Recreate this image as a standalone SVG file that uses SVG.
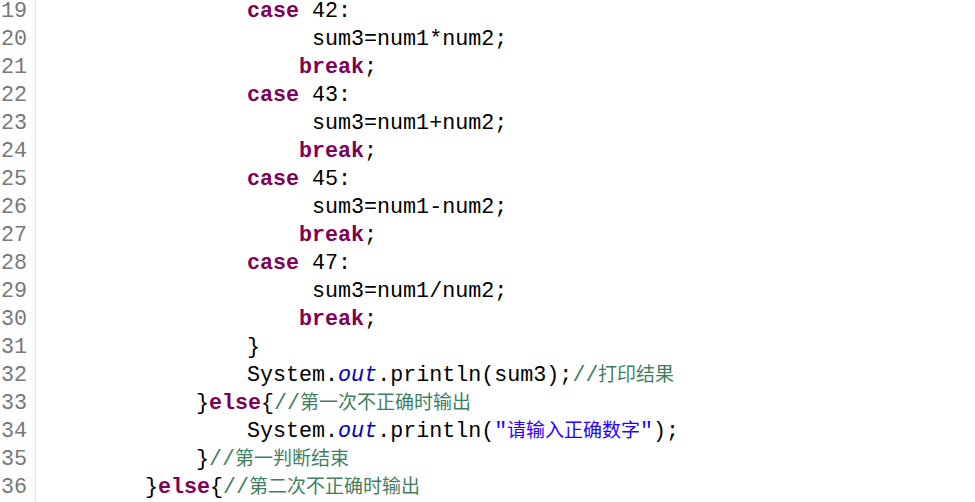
<svg xmlns="http://www.w3.org/2000/svg" width="975" height="502" viewBox="0 0 975 502">
<style>
text{font-family:"Liberation Mono","DejaVu Sans Mono",monospace;font-size:21.7px;fill:#000;white-space:pre}
.ln{fill:#787878}
.kw{fill:#7f0055;font-weight:bold}
.fld{fill:#0000c0;font-style:italic}
.str{fill:#2a00ff}
.cm{fill:#3f7f5f}
.cjk{font-family:"Noto Sans CJK SC","Noto Sans",sans-serif;font-size:19px}
</style>
<rect width="975" height="502" fill="#fff"/>
<line x1="35.5" y1="0" x2="35.5" y2="502" stroke="#e6e6e6" stroke-width="1"/>
<g id="gutter">
<text class="ln" x="1" y="17">19</text>
<text class="ln" x="1" y="45">20</text>
<text class="ln" x="1" y="73">21</text>
<text class="ln" x="1" y="101">22</text>
<text class="ln" x="1" y="129">23</text>
<text class="ln" x="1" y="157">24</text>
<text class="ln" x="1" y="185">25</text>
<text class="ln" x="1" y="213">26</text>
<text class="ln" x="1" y="241">27</text>
<text class="ln" x="1" y="269">28</text>
<text class="ln" x="1" y="297">29</text>
<text class="ln" x="1" y="325">30</text>
<text class="ln" x="1" y="353">31</text>
<text class="ln" x="1" y="381">32</text>
<text class="ln" x="1" y="409">33</text>
<text class="ln" x="1" y="437">34</text>
<text class="ln" x="1" y="465">35</text>
<text class="ln" x="1" y="493">36</text>
</g>
<g id="code">
<text x="247" y="17"><tspan class="kw">case</tspan> 42:</text>
<text x="312" y="45">sum3=num1*num2;</text>
<text x="299" y="73"><tspan class="kw">break</tspan>;</text>
<text x="247" y="101"><tspan class="kw">case</tspan> 43:</text>
<text x="312" y="129">sum3=num1+num2;</text>
<text x="299" y="157"><tspan class="kw">break</tspan>;</text>
<text x="247" y="185"><tspan class="kw">case</tspan> 45:</text>
<text x="312" y="213">sum3=num1-num2;</text>
<text x="299" y="241"><tspan class="kw">break</tspan>;</text>
<text x="247" y="269"><tspan class="kw">case</tspan> 47:</text>
<text x="312" y="297">sum3=num1/num2;</text>
<text x="299" y="325"><tspan class="kw">break</tspan>;</text>
<text x="247" y="353">}</text>
<text x="247" y="381">System.<tspan class="fld">out</tspan>.println(sum3);<tspan class="cm">//</tspan><tspan class="cm cjk" x="598">打印结果</tspan></text>
<text x="196" y="409">}<tspan class="kw">else</tspan>{<tspan class="cm">//</tspan><tspan class="cm cjk" x="300">第一次不正确时输出</tspan></text>
<text x="247" y="437">System.<tspan class="fld">out</tspan>.println(<tspan class="str">"</tspan><tspan class="str cjk" x="507">请输入正确数字</tspan><tspan class="str" x="640">"</tspan>);</text>
<text x="196" y="465">}<tspan class="cm">//</tspan><tspan class="cm cjk" x="235">第一判断结束</tspan></text>
<text x="145" y="493">}<tspan class="kw">else</tspan>{<tspan class="cm">//</tspan><tspan class="cm cjk" x="249">第二次不正确时输出</tspan></text>
</g>
</svg>
